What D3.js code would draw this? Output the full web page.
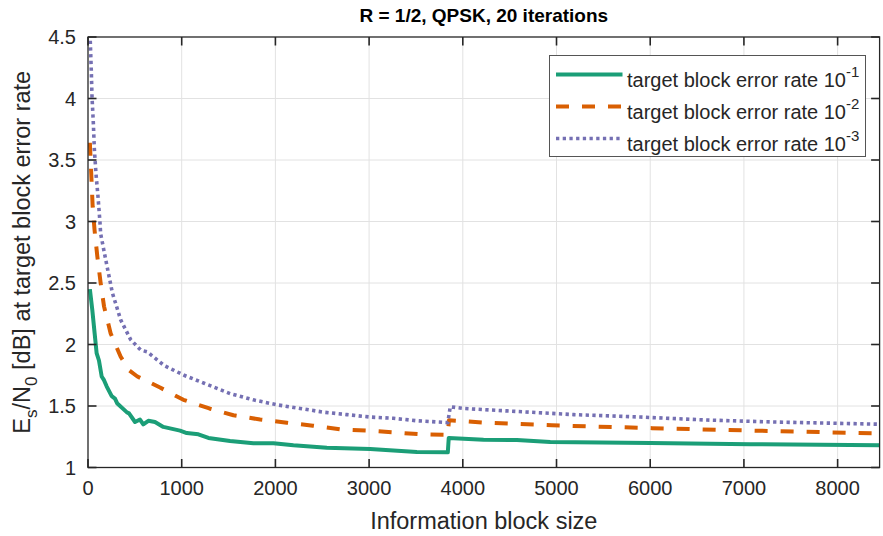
<!DOCTYPE html>
<html>
<head>
<meta charset="UTF-8">
<title>R = 1/2, QPSK, 20 iterations</title>
<script src="https://cdn.jsdelivr.net/npm/d3@7"></script>
<style>
  body { margin: 0; background: #fff; }
  svg text { font-family: "Liberation Sans", Arial, Helvetica, sans-serif; fill: #262626; }
  .grid line { stroke: #e2e2e2; stroke-width: 1; }
  .frame { fill: none; stroke: #262626; stroke-width: 1.3; }
  .tick-mark { stroke: #262626; stroke-width: 1.6; }
</style>
</head>
<body>
<script>
// values
var xTicks = [0, 1000, 2000, 3000, 4000, 5000, 6000, 7000, 8000];
var yTicks = [1, 1.5, 2, 2.5, 3, 3.5, 4, 4.5];
var yTickLabels = ["1", "1.5", "2", "2.5", "3", "3.5", "4", "4.5"];
var legendLabels = ["target block error rate 10", "target block error rate 10", "target block error rate 10"];
var legendExponents = ["-1", "-2", "-3"];

// target BLER 1e-1
var bler1K  = [20, 46, 71, 92, 117, 146, 171, 199, 253, 288, 313, 413, 438, 502, 555, 590, 644, 715, 804, 982, 1054, 1178, 1285, 1516, 1765, 1979, 2192, 2549, 3011, 3510, 3840, 3850, 4221, 4577, 4933, 6000, 7070, 8448];
var bler1Db = [2.45, 2.28, 2.09, 1.93, 1.87, 1.74, 1.71, 1.66, 1.58, 1.56, 1.52, 1.45, 1.44, 1.37, 1.39, 1.35, 1.38, 1.37, 1.33, 1.30, 1.28, 1.27, 1.24, 1.215, 1.197, 1.197, 1.18, 1.16, 1.15, 1.126, 1.124, 1.24, 1.225, 1.224, 1.207, 1.20, 1.19, 1.18];

// target BLER 1e-2
var bler2K  = [20, 35, 50, 70, 99, 135, 171, 242, 349, 440, 527, 769, 1018, 1295, 1552, 1837, 2122, 2400, 2691, 2976, 3260, 3545, 3840, 3852, 4239, 4951, 6019, 7087, 8448];
var bler2Db = [3.64, 3.38, 3.12, 2.93, 2.72, 2.50, 2.31, 2.09, 1.90, 1.79, 1.74, 1.65, 1.55, 1.48, 1.425, 1.39, 1.364, 1.34, 1.31, 1.30, 1.286, 1.27, 1.265, 1.385, 1.364, 1.343, 1.32, 1.30, 1.277];

// target BLER 1e-3
var bler3K  = [24, 35, 43, 57, 67, 85, 107, 128, 135, 189, 260, 349, 455, 562, 633, 811, 1025, 1239, 1520, 1765, 2015, 2264, 2513, 2762, 3011, 3260, 3510, 3840, 3866, 4008, 4471, 5183, 5894, 6606, 7318, 8448];
var bler3Db = [4.47, 4.23, 4.01, 3.80, 3.60, 3.39, 3.20, 2.99, 2.90, 2.69, 2.42, 2.20, 2.04, 1.955, 1.94, 1.83, 1.75, 1.685, 1.60, 1.55, 1.51, 1.48, 1.45, 1.43, 1.41, 1.40, 1.38, 1.365, 1.494, 1.48, 1.46, 1.43, 1.41, 1.386, 1.37, 1.352];

var width = 883, height = 536;
var margin = {top: 37, right: 3.4, bottom: 68.5, left: 88};

var svg = d3.select("body").append("svg")
    .attr("width", width)
    .attr("height", height);

var x = d3.scaleLinear().domain([0, 8448]).range([margin.left, width - margin.right]);
var y = d3.scaleLinear().domain([1, 4.5]).range([height - margin.bottom, margin.top]);

var x0 = x.range()[0], x1 = x.range()[1], y0 = y.range()[0], y1 = y.range()[1];

// grid
var grid = svg.append("g").attr("class", "grid");
grid.selectAll(".gx").data(xTicks.slice(1)).enter().append("line")
    .attr("x1", function(d){ return x(d); }).attr("x2", function(d){ return x(d); })
    .attr("y1", y0).attr("y2", y1);
grid.selectAll(".gy").data(yTicks.slice(1, -1)).enter().append("line")
    .attr("x1", x0).attr("x2", x1)
    .attr("y1", function(d){ return y(d); }).attr("y2", function(d){ return y(d); });

svg.append("defs").append("clipPath").attr("id", "plotclip")
  .append("rect").attr("x", x0).attr("y", y1).attr("width", x1 - x0).attr("height", y0 - y1);

// curves
var line = d3.line()
    .x(function(d){ return x(d[0]); })
    .y(function(d){ return y(d[1]); });

var series = [
  {k: bler1K, v: bler1Db, color: "#1b9e77", dash: null,     w: 4},
  {k: bler2K, v: bler2Db, color: "#d95f02", dash: "13,13",  w: 4},
  {k: bler3K, v: bler3Db, color: "#7570b3", dash: "3.3,3.4", w: 3.6}
];

var curves = svg.append("g").attr("clip-path", "url(#plotclip)");
series.forEach(function(s){
  curves.append("path")
    .datum(d3.zip(s.k, s.v))
    .attr("d", line)
    .attr("fill", "none")
    .attr("stroke", s.color)
    .attr("stroke-width", s.w)
    .attr("stroke-dasharray", s.dash)
    .attr("stroke-linejoin", "round");
});

// box and inward ticks
svg.append("rect").attr("class", "frame")
    .attr("x", x0).attr("y", y1).attr("width", x1 - x0).attr("height", y0 - y1);

var tl = 8.5;
var ticks = svg.append("g");
xTicks.forEach(function(d){
  ticks.append("line").attr("class", "tick-mark")
    .attr("x1", x(d)).attr("x2", x(d)).attr("y1", y0).attr("y2", y0 - tl);
  ticks.append("line").attr("class", "tick-mark")
    .attr("x1", x(d)).attr("x2", x(d)).attr("y1", y1).attr("y2", y1 + tl);
});
yTicks.forEach(function(d){
  ticks.append("line").attr("class", "tick-mark")
    .attr("x1", x0).attr("x2", x0 + tl).attr("y1", y(d)).attr("y2", y(d));
  ticks.append("line").attr("class", "tick-mark")
    .attr("x1", x1).attr("x2", x1 - tl).attr("y1", y(d)).attr("y2", y(d));
});

// tick labels
svg.append("g").selectAll("text").data(xTicks).enter().append("text")
    .attr("x", function(d){ return x(d); })
    .attr("y", y0 + 27)
    .attr("text-anchor", "middle")
    .style("font-size", "20px")
    .text(function(d){ return d; });

svg.append("g").selectAll("text").data(yTicks).enter().append("text")
    .attr("x", x0 - 12)
    .attr("y", function(d){ return y(d) + 7; })
    .attr("text-anchor", "end")
    .style("font-size", "20px")
    .text(function(d, i){ return yTickLabels[i]; });

// axis labels
svg.append("text")
    .attr("x", (x0 + x1) / 2)
    .attr("y", height - 7)
    .attr("text-anchor", "middle")
    .style("font-size", "23.5px")
    .text("Information block size");

var yl = svg.append("text")
    .attr("transform", "translate(30," + ((y0 + y1) / 2) + ") rotate(-90)")
    .attr("text-anchor", "middle")
    .style("font-size", "23.5px");
yl.append("tspan").text("E");
yl.append("tspan").attr("dy", 7).style("font-size", "17px").text("s");
yl.append("tspan").attr("dy", -7).text("/N");
yl.append("tspan").attr("dy", 7).style("font-size", "17px").text("0");
yl.append("tspan").attr("dy", -7).text(" [dB] at target block error rate");

// title
svg.append("text")
    .attr("x", (x0 + x1) / 2)
    .attr("y", 22)
    .attr("text-anchor", "middle")
    .style("font-size", "19px")
    .style("font-weight", "bold")
    .style("fill", "#000")
    .text("R = 1/2, QPSK, 20 iterations");

// legend
var lg = svg.append("g");
lg.append("rect")
    .attr("x", 549.5).attr("y", 55.5).attr("width", 316).attr("height", 101)
    .attr("fill", "#fff").attr("stroke", "#555").attr("stroke-width", 1);

var rowY = [74.5, 106.5, 138.5];
series.forEach(function(s, i){
  lg.append("line")
    .attr("x1", 556).attr("x2", 622.5)
    .attr("y1", rowY[i]).attr("y2", rowY[i])
    .attr("stroke", s.color)
    .attr("stroke-width", s.w)
    .attr("stroke-dasharray", s.dash);
  var t = lg.append("text")
    .attr("x", 627)
    .attr("y", rowY[i] + 12)
    .style("font-size", "20px");
  t.append("tspan").text(legendLabels[i]);
  t.append("tspan").attr("dy", -10).style("font-size", "15px").text(legendExponents[i]);
});
</script>
</body>
</html>
